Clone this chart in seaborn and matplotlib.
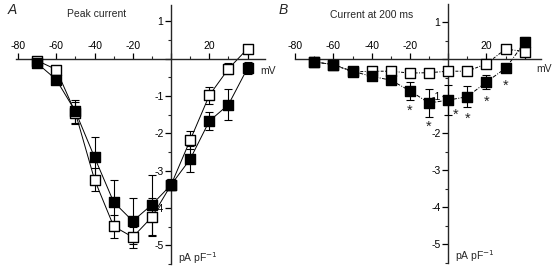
import numpy as np
import pandas as pd
import matplotlib
matplotlib.use("Agg")
import matplotlib.pyplot as plt
import seaborn as sns

# ---- data ----
voltage = [-70, -60, -50, -40, -30, -20, -10, 0, 10, 20, 30, 40]

peak_filled = [-0.12, -0.56, -1.41, -2.64, -3.84, -4.35, -3.91, -3.38, -2.69, -1.67, -1.23, -0.25]
peak_filled_err = [0.05, 0.12, 0.30, 0.55, 0.60, 0.62, 0.80, 0.15, 0.35, 0.25, 0.42, 0.15]
peak_open = [-0.05, -0.29, -1.45, -3.24, -4.49, -4.78, -4.24, -3.38, -2.18, -0.98, -0.27, 0.27]
peak_open_err = [0.05, 0.10, 0.30, 0.31, 0.31, 0.28, 0.50, 0.15, 0.25, 0.22, 0.15, 0.10]

late_filled = [-0.08, -0.15, -0.33, -0.47, -0.57, -0.86, -1.19, -1.11, -1.02, -0.62, -0.25, 0.45]
late_filled_err = [0.04, 0.05, 0.06, 0.07, 0.10, 0.25, 0.37, 0.40, 0.28, 0.20, 0.05, 0.15]
late_open = [-0.08, -0.15, -0.35, -0.33, -0.33, -0.38, -0.37, -0.33, -0.33, -0.13, 0.27, 0.20]
late_open_err = [0.03, 0.04, 0.06, 0.06, 0.05, 0.05, 0.05, 0.05, 0.05, 0.06, 0.10, 0.08]

star_x = [-20, -10, 4, 10, 20, 30]
star_y = [-1.40, -1.82, -1.50, -1.62, -1.15, -0.73]

xticks_major = [-80, -60, -40, -20, 0, 20, 40]
xtick_labels = ["-80", "-60", "-40", "-20", "", "20", ""]
yticks_major = [1, 0, -1, -2, -3, -4, -5]
ytick_labels = ["1", "", "-1", "-2", "-3", "-4", "-5"]

sns.set_style("ticks")
plt.rcParams["font.family"] = ["Liberation Sans", "DejaVu Sans"]

W, H = 553, 268
fig = plt.figure(figsize=(W / 100, H / 100), dpi=100)

def px_axes(left_px, right_px, top_px, bottom_px):
    return fig.add_axes([left_px / W, 1 - bottom_px / H,
                         (right_px - left_px) / W, (bottom_px - top_px) / H])

axA = px_axes(16.1, 264.8, 5, 264)
axB = px_axes(295.1, 541.0, 3.5, 262.5)

def style_axes(ax, ylim, xlim):
    ax.set_xlim(*xlim)
    ax.set_ylim(*ylim)
    for s in ["bottom", "right"]:
        ax.spines[s].set_visible(False)
    ax.spines["top"].set_position(("data", 0))
    ax.spines["left"].set_position(("data", 0))
    ax.spines["top"].set_linewidth(1.0)
    ax.spines["left"].set_linewidth(1.0)
    ax.xaxis.set_ticks_position("top")
    ax.xaxis.set_label_position("top")
    ax.set_xticks(xticks_major)
    ax.set_xticklabels(xtick_labels)
    ax.set_xticks(np.arange(-70, 50, 20), minor=True)
    ax.set_yticks(yticks_major)
    ax.set_yticklabels(ytick_labels)
    ax.set_yticks(np.arange(-5.5, 1.5, 1.0), minor=True)
    ax.tick_params(axis="both", which="major", length=4, width=0.9,
                   labelsize=7.5, pad=1.5, direction="out", colors="black")
    ax.tick_params(axis="both", which="minor", length=2.2, width=0.8, direction="out")
    ax.set_xlabel("")
    ax.set_ylabel("")
    ax.patch.set_alpha(0)

def draw_series(ax, y, err, filled, ls, lw):
    df = pd.DataFrame({"V": voltage, "I": y})
    sns.lineplot(data=df, x="V", y="I", ax=ax, color="black", lw=lw,
                 linestyle=ls, sort=True, zorder=2)
    ax.errorbar(voltage, y, yerr=err, fmt="none", ecolor="black",
                elinewidth=0.8, capsize=2.6, capthick=0.8, zorder=3)
    sns.scatterplot(data=df, x="V", y="I", ax=ax, marker="s", s=46,
                    color="black" if filled else "white",
                    edgecolor="black", linewidth=1.0, zorder=4)

# Panel A
draw_series(axA, peak_open, peak_open_err, False, "-", 0.7)
draw_series(axA, peak_filled, peak_filled_err, True, "-", 0.7)
style_axes(axA, (-5.47, 1.44), (-81, 49))

# Panel B
draw_series(axB, late_open, late_open_err, False, (0, (3, 1.5, 1, 1.5)), 0.7)
draw_series(axB, late_filled, late_filled_err, True, (0, (4, 1.5, 1, 1.5)), 0.7)
style_axes(axB, (-5.43, 1.5), (-80, 48.5))
for sx, sy in zip(star_x, star_y):
    axB.text(sx, sy, "*", ha="center", va="center", fontsize=10.5)

# Text
fig.text(8 / W, 1 - 10 / H, "A", fontsize=10, style="italic", va="center", ha="left")
fig.text(67 / W, 1 - 14 / H, "Peak current", fontsize=7.5, va="center", ha="left")
fig.text(279 / W, 1 - 10 / H, "B", fontsize=10, style="italic", va="center", ha="left")
fig.text(330 / W, 1 - 15 / H, "Current at 200 ms", fontsize=7.5, va="center", ha="left")
fig.text(260 / W, 1 - 71 / H, "mV", fontsize=7.5, va="center", ha="left")
fig.text(536 / W, 1 - 69 / H, "mV", fontsize=7.5, va="center", ha="left")
fig.text(178 / W, 1 - 258 / H, "pA pF$^{-1}$", fontsize=7.5, va="center", ha="left")
fig.text(455 / W, 1 - 256 / H, "pA pF$^{-1}$", fontsize=7.5, va="center", ha="left")

fig.savefig("out.png", dpi=100)
